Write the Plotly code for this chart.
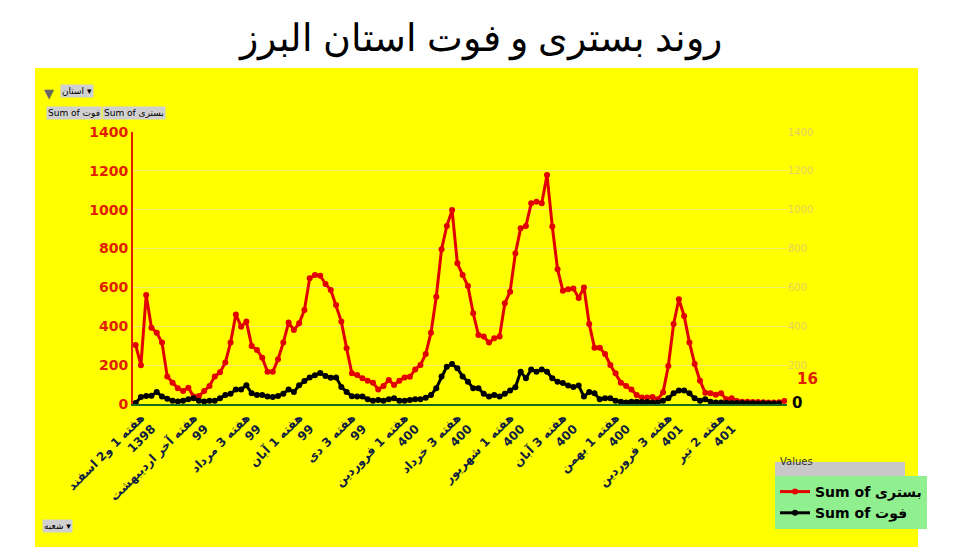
import plotly.graph_objects as go

# weekly hospitalisations (بستری) and deaths (فوت)
bastari = [304, 200, 561, 393, 367, 316, 141, 110, 81, 67, 84, 38, 41, 67, 93, 141, 163, 213, 316, 461,
           398, 424, 299, 278, 238, 166, 166, 230, 316, 419, 381, 415, 484, 647, 664, 660, 618, 587, 510, 424,
           287, 158,
           149, 132, 120, 110, 75, 93, 124, 98, 120, 137, 140, 178, 201, 257, 367, 552, 796, 916, 998, 724,
           664, 607, 467, 355, 347, 316, 338, 347, 518, 578, 775, 904, 916, 1033, 1041, 1033, 1179, 913, 693,
           583,
           590, 595, 545, 600, 412, 290, 290, 257, 201, 158, 110, 93, 75, 46, 34, 34, 36, 24, 60, 196, 412,
           539, 453, 317, 206, 120, 58, 55, 48, 55, 24, 30, 16, 12, 12, 10, 10, 9, 8, 8, 9, 16]
fot = [5, 36, 41, 42, 62, 38, 27, 17, 13, 17, 24, 29, 17, 13, 17, 17, 29, 46, 53, 75, 75, 96, 55, 46,
       46, 38, 36, 41, 53, 75, 62, 96, 118, 137, 148, 160, 144, 135, 137, 88, 62, 40,
       38, 38, 24, 17, 20, 17, 25, 29, 17, 17, 20, 24, 24, 32, 46, 81, 141, 192, 206, 184, 141, 115, 81,
       81, 53, 38, 46, 38, 53, 69, 86, 166, 132, 178, 166, 178, 166, 132, 115,
       108, 95, 88, 95, 38, 62, 55, 24, 29, 29, 17, 12, 8, 12, 12, 10, 10, 8, 8, 17, 29, 55, 69, 69, 55,
       29, 17, 24, 12, 8, 8, 6, 5, 5, 5, 4, 4, 3, 4, 3, 3, 2]

tick_labels = ["<b>هفته 1 و2 اسفند<br>1398</b>", "<b>هفته آخر اردیبهشت<br>99</b>", "<b>هفته 3 مرداد<br>99</b>",
               "<b>هفته 1 آبان<br>99</b>", "<b>هفته 3 دی<br>99</b>", "<b>هفته 1 فروردین<br>400</b>",
               "<b>هفته 3 خرداد<br>400</b>", "<b>هفته 1 شهریور<br>400</b>", "<b>هفته 3 آبان<br>400</b>",
               "<b>هفته 1 بهمن<br>400</b>", "<b>هفته 3 فروردین<br>401</b>", "<b>هفته 2 تیر<br>401</b>"]
tick_pos = [i * 10 + 1 for i in range(len(tick_labels))]
right_ticks = [200, 400, 600, 800, 1000, 1200, 1400]

x = list(range(len(bastari)))

# page offset of the plot div
OFF = 8
W, H = 954 - OFF, 547 - OFF


def fx(px):
    return (px - OFF) / W


def fy(py):
    return 1 - (py - OFF) / H


fig = go.Figure()
fig.add_trace(go.Scatter(x=x, y=bastari, name="<b>Sum of بستری</b>", mode="lines+markers",
                         line=dict(color="#e00000", width=3), marker=dict(size=6, color="#e00000")))
fig.add_trace(go.Scatter(x=x, y=fot, name="<b>Sum of فوت</b>", mode="lines+markers", yaxis="y2",
                         line=dict(color="black", width=3), marker=dict(size=6, color="black")))

fig.update_layout(
    width=W, height=H, margin=dict(l=0, r=0, t=0, b=0, autoexpand=False),
    paper_bgcolor="white", plot_bgcolor="rgba(0,0,0,0)",
    font=dict(family="DejaVu Sans"),
    title=dict(text="روند بستری و فوت استان البرز", x=0.5, y=fy(38), xanchor="center", yanchor="middle",
               font=dict(size=38, color="black", family="Noto Sans")),
    xaxis=dict(domain=[fx(133), fx(787)], range=[-0.5, len(x) - 0.5], showgrid=False, automargin=False,
               tickvals=tick_pos, ticktext=tick_labels, tickangle=-45,
               tickfont=dict(size=12, color="#102040", family="DejaVu Sans"),
               showline=True, linecolor="#1a6b1a", linewidth=2, zeroline=False),
    yaxis=dict(domain=[fy(404), fy(132)], range=[0, 1400], dtick=200, automargin=False,
               tickfont=dict(size=14, color="#e02000", family="DejaVu Sans"), tickprefix="<b>",
               ticksuffix="</b>", showgrid=True, gridcolor="#f0f070", zeroline=False,
               showline=True, linecolor="#e02000", linewidth=2),
    yaxis2=dict(overlaying="y", side="right", range=[0, 1400], tickvals=right_ticks, automargin=False,
                tickfont=dict(size=10, color="#e8d060"), showgrid=False, zeroline=False),
    legend=dict(x=fx(775), y=fy(476), xanchor="left", yanchor="top",
                bgcolor="#90f090", font=dict(size=14, color="black", family="DejaVu Sans"),
                tracegroupgap=4),
    shapes=[dict(type="rect", xref="paper", yref="paper", x0=fx(35), x1=fx(918), y0=0,
                 y1=fy(68), fillcolor="yellow", line=dict(width=0), layer="below"),
            dict(type="rect", xref="paper", yref="paper", x0=fx(775), x1=fx(905),
                 y0=fy(476), y1=fy(462), fillcolor="#c8c8c8", line=dict(width=0))],
    annotations=[
        dict(text="Values", xref="paper", yref="paper", x=fx(778), y=fy(469), xanchor="left",
             showarrow=False, font=dict(size=10, color="#333")),
        dict(text="<b>16</b>", xref="paper", yref="paper", x=fx(795), y=fy(390), xanchor="left",
             showarrow=False, font=dict(size=15, color="#e02000")),
        dict(text="<b>0</b>", xref="paper", yref="paper", x=fx(790), y=fy(414), xanchor="left",
             showarrow=False, font=dict(size=15, color="black")),
        dict(text="استان ▾", xref="paper", yref="paper", x=fx(60), y=fy(84), xanchor="left",
             showarrow=False, bgcolor="#d0d0d0", font=dict(size=9, color="black")),
        dict(text="▼", xref="paper", yref="paper", x=fx(42), y=fy(84), xanchor="left",
             showarrow=False, font=dict(size=13, color="#666")),
        dict(text="Sum of فوت", xref="paper", yref="paper", x=fx(46), y=fy(106), xanchor="left",
             showarrow=False, bgcolor="#d0d0d0", font=dict(size=9, color="black")),
        dict(text="Sum of بستری", xref="paper", yref="paper", x=fx(102), y=fy(106), xanchor="left",
             showarrow=False, bgcolor="#d0d0d0", font=dict(size=9, color="black")),
        dict(text="شعبه ▾", xref="paper", yref="paper", x=fx(42), y=fy(533), xanchor="left",
             showarrow=False, bgcolor="#d0d0d0", font=dict(size=9, color="black")),
    ],
)

fig.write_html("out.html")
